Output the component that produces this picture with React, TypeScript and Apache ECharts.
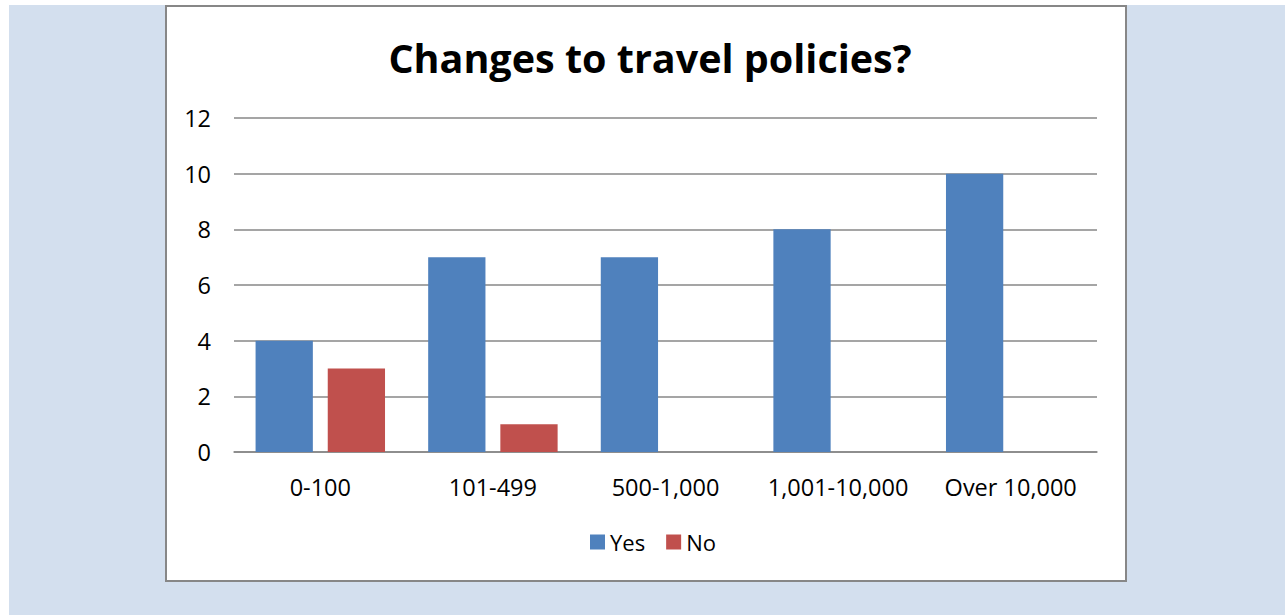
import React, { useEffect, useRef } from "react";
import * as echarts from "echarts";

const categories = ["0-100", "101-499", "500-1,000", "1,001-10,000", "Over 10,000"];
const yesValues = [4, 7, 7, 8, 10];
const noValues = [3, 1, 0, 0, 0];
const titleText = "Changes to travel policies?";
const seriesNames = ["Yes", "No"];

const FONT = "'Open Sans', 'Liberation Sans', sans-serif";

export default function App() {
  const ref = useRef<HTMLDivElement>(null);
  useEffect(() => {
    if (!ref.current) return;
    const chart = echarts.init(ref.current, null, { renderer: "svg" });
    chart.setOption({
      animation: false,
      backgroundColor: "#ffffff",
      graphic: [
        {
          type: "rect",
          z: -10,
          silent: true,
          shape: { x: 9, y: 5, width: 1285, height: 615 },
          style: { fill: "#d3dfee" },
        },
        {
          type: "rect",
          z: -9,
          silent: true,
          shape: { x: 166, y: 6, width: 960, height: 575 },
          style: { fill: "#ffffff", stroke: "#878787", lineWidth: 2 },
        },
      ],
      title: {
        text: titleText,
        left: 645,
        textAlign: "center",
        top: 33,
        textStyle: { fontFamily: FONT, fontWeight: "bold", fontSize: 39.5, color: "#000" },
      },
      legend: {
        data: seriesNames,
        bottom: 57,
        left: 585,
        itemWidth: 15,
        itemHeight: 15,
        itemGap: 21,
        icon: "rect",
        textStyle: { fontFamily: FONT, fontSize: 22, color: "#000", padding: [0, 0, 0, 0] },
      },
      grid: { left: 234, right: 188, top: 118, bottom: 163 },
      xAxis: {
        type: "category",
        data: categories,
        axisLine: { show: true, lineStyle: { color: "#878787", width: 1.5 } },
        axisTick: { show: false },
        axisLabel: { fontFamily: FONT, fontSize: 23.5, color: "#000", margin: 23, interval: 0, hideOverlap: false },
      },
      yAxis: {
        type: "value",
        min: 0,
        max: 12,
        interval: 2,
        axisLine: { show: false },
        axisTick: { show: false },
        axisLabel: { fontFamily: FONT, fontSize: 23.5, color: "#000", margin: 23 },
        splitLine: { lineStyle: { color: "#878787", width: 1.5 } },
      },
      series: [
        {
          name: "Yes",
          type: "bar",
          data: yesValues,
          itemStyle: { color: "#4f81bd" },
          barGap: "26%",
          barCategoryGap: "25%",
        },
        {
          name: "No",
          type: "bar",
          data: noValues,
          itemStyle: { color: "#c0504d" },
          barGap: "26%",
          barCategoryGap: "25%",
        },
      ],
    });
    return () => chart.dispose();
  }, []);
  return (
    <div
      ref={ref}
      style={{ position: "fixed", left: 0, top: 0, width: 1285, height: 615 }}
    />
  );
}
